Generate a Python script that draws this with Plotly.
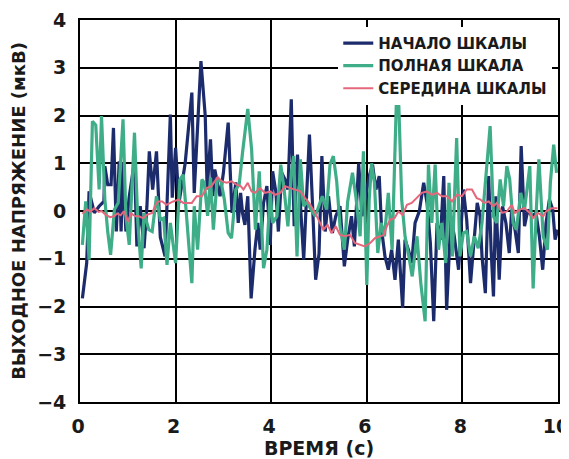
import plotly.graph_objects as go

# --- Data ---
start_x = [0.05, 0.14, 0.19, 0.30, 0.40, 0.50, 0.52, 0.58, 0.65, 0.70, 0.76, 0.82, 0.86, 0.90, 0.96,
           1.03, 1.14, 1.19, 1.26, 1.34, 1.40, 1.45, 1.52, 1.60, 1.68, 1.78, 1.89, 1.93, 2.00, 2.07,
           2.20, 2.34, 2.39, 2.53, 2.62, 2.66, 2.73, 2.78, 2.82, 2.93, 3.00, 3.10, 3.18, 3.26, 3.31,
           3.36, 3.40, 3.45, 3.51, 3.58, 3.66, 3.72, 3.77, 3.84, 3.91, 3.98, 4.03, 4.10, 4.15, 4.22,
           4.29, 4.35, 4.42, 4.48, 4.55, 4.62, 4.68, 4.74, 4.80, 4.86, 4.93, 5.00, 5.06, 5.13, 5.20,
           5.28, 5.35, 5.44, 5.53, 5.60, 5.68, 5.74, 5.83, 5.90, 5.98, 6.05, 6.12, 6.19, 6.26, 6.31,
           6.38, 6.45, 6.52, 6.59, 6.66, 6.75, 6.80, 6.87, 6.94, 7.01, 7.10, 7.19, 7.26, 7.33, 7.40,
           7.47, 7.54, 7.61, 7.67, 7.76, 7.83, 7.92, 8.02, 8.09, 8.17, 8.24, 8.31, 8.37, 8.41, 8.48,
           8.55, 8.60, 8.65, 8.70, 8.77, 8.84, 8.91, 8.98, 9.03, 9.10, 9.17, 9.23, 9.30, 9.37, 9.45,
           9.54, 9.61, 9.68, 9.75, 9.82, 9.89, 9.94, 9.99]
start_y = [-1.83, -1.09, 0.41, -0.04, 0.10, 0.20, 0.94, 0.55, 0.55, 1.74, -0.43, 1.04, -0.43, 1.00, -0.43,
           0.30, 1.04, -0.74, 0.10, -0.78, 0.10, 1.25, 0.45, 1.25, -0.55, -0.95, 2.02, 0.28, 1.32, 0.17,
           1.00, 2.48, 0.38, 3.14, 1.99, 0.45, 1.50, 0.31, 0.87, 0.31, 0.80, 1.85, -0.04, 0.60, -0.25,
           0.38, -0.04, -0.29, 0.31, -1.83, -0.81, -0.25, -0.81, 0.17, 0.52, -0.71, 0.83, 0.38, -0.43, 0.80,
           0.66, 0.45, 2.34, -0.32, 1.18, -0.11, -1.02, 0.31, 1.60, 0.24, -1.44, -0.90, 1.15, -0.43, 0.31,
           -0.46, -0.11, 0.10, -1.16, -0.60, -0.11, -0.74, 1.00, -0.11, 0.38, 0.73, 0.97, 0.45, 0.73, -0.39,
           -0.95, -1.23, -0.81, -1.44, -0.60, -2.03, -0.60, -0.81, -1.09, -0.25, 0.00, 0.59, 0.17, -0.67, -2.31,
           -0.25, -0.60, 0.73, -2.07, -0.11, -0.53, -1.23, 0.45, -0.18, -1.51, -0.67, 0.17, -0.11, -0.95, -1.72,
           0.73, -0.81, -1.79, 0.31, -1.44, 0.10, -0.25, -0.88, 0.03, -0.39, -0.88, 1.36, -0.32, 0.03, -0.11,
           -0.04, -0.53, -1.23, -0.25, 0.24, 0.03, -0.60, -0.39]

full_x = [0.05, 0.12, 0.19, 0.26, 0.33, 0.40, 0.45, 0.52, 0.58, 0.64, 0.72, 0.80, 0.90, 0.96, 1.03,
          1.08, 1.14, 1.21, 1.28, 1.34, 1.44, 1.51, 1.60, 1.68, 1.75, 1.82, 1.89, 2.00, 2.09, 2.16,
          2.25, 2.34, 2.39, 2.46, 2.55, 2.60, 2.67, 2.73, 2.79, 2.87, 2.95, 3.02, 3.10, 3.17, 3.26,
          3.33, 3.40, 3.51, 3.59, 3.67, 3.75, 3.84, 3.91, 3.98, 4.03, 4.12, 4.20, 4.27, 4.35, 4.42,
          4.47, 4.54, 4.61, 4.68, 4.75, 4.83, 4.92, 5.00, 5.07, 5.16, 5.23, 5.30, 5.37, 5.44, 5.53,
          5.60, 5.70, 5.77, 5.86, 5.93, 6.00, 6.05, 6.10, 6.16, 6.23, 6.30, 6.37, 6.45, 6.53, 6.62,
          6.67, 6.73, 6.80, 6.88, 6.95, 7.05, 7.13, 7.22, 7.29, 7.36, 7.43, 7.50, 7.57, 7.65, 7.72,
          7.79, 7.88, 7.95, 8.02, 8.09, 8.17, 8.25, 8.33, 8.41, 8.49, 8.58, 8.65, 8.72, 8.79, 8.86,
          8.93, 8.99, 9.06, 9.13, 9.22, 9.30, 9.41, 9.48, 9.55, 9.60, 9.69, 9.78, 9.84, 9.91, 9.97]
full_y = [-0.71, 0.20, -1.02, 1.88, 1.80, 0.45, 1.99, 0.24, -0.43, -0.92, 0.03, 0.17, 1.92, -0.10, -0.71,
          0.31, 1.64, -0.25, -1.20, -0.04, -0.39, -0.43, 0.31, -0.18, -0.15, -1.13, -0.25, -1.09, 0.66, 0.76,
          -0.32, -1.51, 0.10, -0.81, 0.66, 0.59, -0.10, 0.70, -0.39, 0.66, 0.62, 0.24, -0.46, -0.57, 0.45,
          0.55, 1.22, 2.14, 1.29, -0.39, 0.83, -1.20, -0.81, 0.38, -0.25, -0.11, 0.97, 0.45, -0.32, 0.80,
          1.15, -0.95, 1.08, 0.10, 0.20, 0.03, -0.11, 0.10, 0.31, 0.03, 0.97, 1.15, 0.62, -0.32, -0.81,
          0.20, 0.80, 0.31, -0.53, 1.25, -1.55, 0.24, 1.00, 0.59, -0.88, -0.25, -0.53, 0.38, -0.81, 2.34,
          2.20, 0.24, -0.53, -0.95, -1.37, -0.53, -1.51, -2.31, 0.97, -0.25, 0.97, -0.81, -0.25, -1.09, 0.59,
          -0.95, 1.53, -0.95, -0.46, -0.43, -0.95, -0.53, -0.78, -0.25, 0.80, 1.78, -0.11, -0.25, 0.66, 0.10,
          0.94, 0.66, -0.25, -0.39, 0.38, 0.03, 0.94, -1.62, 0.10, 1.08, -0.53, -0.81, 0.59, 1.39, 0.80]

mid_x = [0.05, 0.14, 0.22, 0.30, 0.39, 0.45, 0.54, 0.63, 0.71, 0.78, 0.85, 0.92, 1.00, 1.07, 1.16,
         1.23, 1.32, 1.40, 1.51, 1.60, 1.64, 1.72, 1.81, 1.88, 1.95, 2.06, 2.16, 2.27, 2.34, 2.44,
         2.55, 2.65, 2.75, 2.88, 2.97, 3.07, 3.17, 3.28, 3.36, 3.42, 3.51, 3.59, 3.66, 3.76, 3.87,
         3.98, 4.08, 4.19, 4.29, 4.40, 4.50, 4.61, 4.71, 4.82, 4.92, 5.03, 5.09, 5.18, 5.26, 5.35,
         5.44, 5.54, 5.65, 5.75, 5.86, 5.96, 6.07, 6.17, 6.28, 6.35, 6.42, 6.49, 6.58, 6.66, 6.75,
         6.84, 6.94, 7.05, 7.15, 7.26, 7.36, 7.47, 7.57, 7.68, 7.78, 7.89, 7.99, 8.09, 8.20, 8.30,
         8.38, 8.45, 8.55, 8.65, 8.72, 8.83, 8.93, 9.03, 9.10, 9.20, 9.30, 9.41, 9.48, 9.58, 9.69,
         9.75, 9.86, 9.99]
mid_y = [-0.06, 0.03, -0.01, 0.06, -0.02, 0.00, -0.08, -0.13, -0.11, -0.05, -0.09, 0.00, -0.22, -0.05, -0.11,
         -0.11, -0.15, -0.08, -0.04, 0.17, 0.20, 0.20, 0.13, 0.17, 0.20, 0.24, 0.17, 0.17, 0.17, 0.31,
         0.31, 0.48, 0.52, 0.71, 0.62, 0.59, 0.62, 0.55, 0.52, 0.45, 0.59, 0.41, 0.38, 0.48, 0.38,
         0.41, 0.34, 0.38, 0.52, 0.48, 0.45, 0.41, 0.27, 0.13, -0.04, -0.25, -0.39, -0.29, -0.46, -0.32,
         -0.50, -0.53, -0.50, -0.67, -0.71, -0.74, -0.67, -0.57, -0.53, -0.50, -0.32, -0.18, -0.15, -0.01, -0.08,
         0.13, 0.17, 0.27, 0.38, 0.41, 0.34, 0.38, 0.31, 0.31, 0.20, 0.34, 0.31, 0.45, 0.45, 0.27,
         0.24, 0.17, 0.20, 0.10, 0.17, -0.04, -0.01, 0.13, -0.04, 0.03, 0.06, -0.04, -0.15, -0.04, -0.11,
         -0.01, 0.06, 0.06]

series_names = ["НАЧАЛО ШКАЛЫ", "ПОЛНАЯ ШКАЛА", "СЕРЕДИНА ШКАЛЫ"]
x_ticks = [0, 2, 4, 6, 8, 10]
y_ticks = [-4, -3, -2, -1, 0, 1, 2, 3, 4]
y_tick_text = ["−4", "−3", "−2", "−1", "0", "1", "2", "3", "4"]

FONT = "DejaVu Sans"

fig = go.Figure()
fig.add_trace(go.Scatter(x=start_x, y=start_y, mode="lines", name=series_names[0],
                         line=dict(color="#1c2b6b", width=3.2)))
fig.add_trace(go.Scatter(x=full_x, y=full_y, mode="lines", name=series_names[1],
                         line=dict(color="#3fae88", width=3.2)))
fig.add_trace(go.Scatter(x=mid_x, y=mid_y, mode="lines", name=series_names[2],
                         line=dict(color="#e4677c", width=2)))

axis_common = dict(
    showgrid=True, gridcolor="black", gridwidth=1.8,
    showline=True, linecolor="black", linewidth=1.8, mirror=True,
    zeroline=False, ticks="", automargin=False,
    tickfont=dict(family=FONT, size=19, color="#1a1a1a", weight="bold"),
)

# The page body adds an 8 px offset, so margins are set to compensate.
fig.update_layout(
    width=569, height=459,
    margin=dict(l=72, r=19, t=12, b=65),
    paper_bgcolor="white", plot_bgcolor="white",
    showlegend=True,
    legend=dict(
        x=0.988, y=0.982, xanchor="right", yanchor="top",
        bgcolor="white", borderwidth=0,
        font=dict(family=FONT, size=15, color="#1a1a1a", weight="bold"),
        itemwidth=30, tracegroupgap=0,
    ),
    xaxis=dict(
        range=[0, 10], tickvals=x_ticks, ticktext=[str(v) for v in x_ticks],
        ticklabelstandoff=6, ticklabelshift=-2, ticklabeloverflow="allow",
        title=dict(text="ВРЕМЯ (с)", standoff=5,
                   font=dict(family=FONT, size=19, color="#1a1a1a", weight="bold")),
        **axis_common,
    ),
    yaxis=dict(
        range=[-4, 4], tickvals=y_ticks, ticktext=y_tick_text,
        ticklabelstandoff=8, ticklabeloverflow="allow",
        title=dict(text="ВЫХОДНОЕ НАПРЯЖЕНИЕ (мкВ)", standoff=9,
                   font=dict(family=FONT, size=18, color="#1a1a1a", weight="bold")),
        **axis_common,
    ),
)

fig.write_html("out.html")
